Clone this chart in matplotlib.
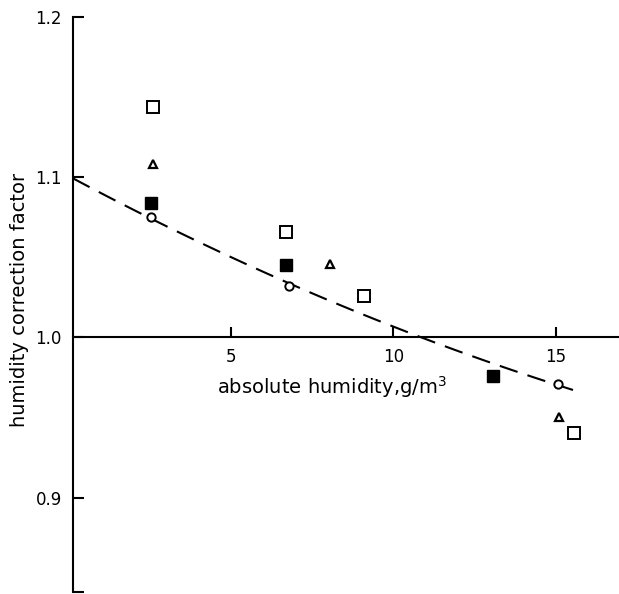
import numpy as np
import matplotlib
matplotlib.use("Agg")
import matplotlib.pyplot as plt

# open squares
sq_x = [2.6, 6.7, 9.1, 15.55]
sq_y = [1.144, 1.066, 1.026, 0.940]
# open triangles
tri_x = [2.6, 8.05, 15.1]
tri_y = [1.108, 1.046, 0.950]
# filled squares
fsq_x = [2.55, 6.7, 13.05]
fsq_y = [1.084, 1.045, 0.976]
# open circles
circ_x = [2.55, 6.8, 15.07]
circ_y = [1.075, 1.032, 0.971]
# dashed fit curve
fit_x = [0.14, 2.55, 6.8, 11.0, 15.07, 15.68]
fit_y = [1.099, 1.075, 1.032, 1.0, 0.971, 0.965]

xticks = [5, 10, 15]
yticks = [0.841, 0.9, 1.0, 1.1, 1.2]
ytick_labels = ["", "0.9", "1.0", "1.1", "1.2"]

plt.rcParams["font.family"] = "DejaVu Sans"
fig = plt.figure(figsize=(6.19, 5.94), dpi=100)
ax = fig.add_axes([73 / 619, 2 / 594, 546 / 619, 575 / 594])

# smooth the fit line a little with a quadratic through the read points
coef = np.polyfit(fit_x, fit_y, 2)
xs = np.linspace(fit_x[0], fit_x[-1], 100)
line, = ax.plot(xs, np.polyval(coef, xs), color="black", lw=1.5)
line.set_dashes((9, 5))

ax.plot(sq_x, sq_y, "s", ms=8, mfc="white", mec="black", mew=1.4, ls="none")
ax.plot(tri_x, tri_y, "^", ms=6, mfc="white", mec="black", mew=1.6, ls="none")
ax.plot(fsq_x, fsq_y, "s", ms=8, mfc="black", mec="black", ls="none")
ax.plot(circ_x, circ_y, "o", ms=6, mfc="white", mec="black", mew=1.4, ls="none", zorder=3)

ax.set_xlim(0.14, 16.94)
ax.set_ylim(0.841, 1.2)

for s in ["top", "right"]:
    ax.spines[s].set_visible(False)
ax.spines["bottom"].set_position(("data", 1.0))
ax.spines["bottom"].set_linewidth(1.5)
ax.spines["left"].set_linewidth(1.5)

ax.set_xticks(xticks)
ax.set_xticklabels([str(t) for t in xticks])
ax.set_yticks(yticks)
ax.set_yticklabels(ytick_labels)
ax.tick_params(axis="x", direction="in", length=7, width=1.5, pad=8, labelsize=12)
ax.tick_params(axis="y", direction="in", length=8, width=1.5, pad=8, labelsize=12)

ax.set_xlabel("absolute humidity,g/m$^3$", fontsize=14)
ax.xaxis.set_label_coords(0.474, 0.379)
ax.set_ylabel("humidity correction factor", fontsize=14)
ax.yaxis.set_label_coords(-0.08, 0.508)

fig.savefig("out.png", dpi=100)
